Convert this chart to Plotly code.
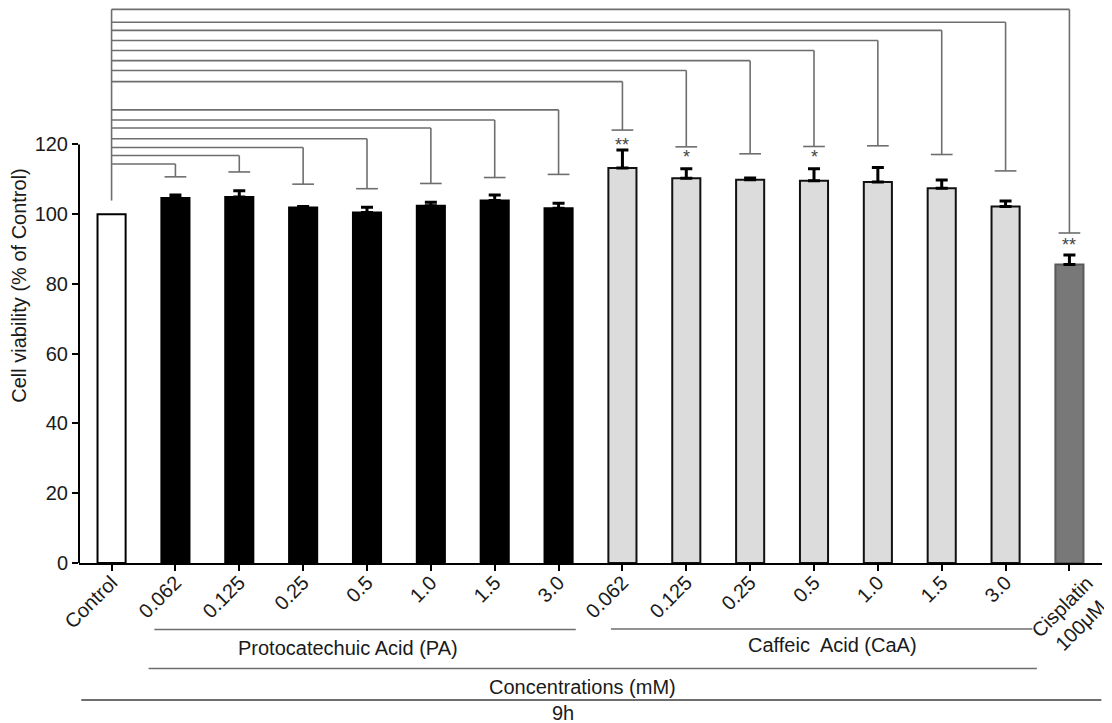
import plotly.graph_objects as go

# ---------------- data ----------------
tick_labels = ["Control",
               "0.062", "0.125", "0.25", "0.5", "1.0", "1.5", "3.0",
               "0.062", "0.125", "0.25", "0.5", "1.0", "1.5", "3.0",
               "Cisplatin<br>100\u03bcM"]
groups = ["Control"] + ["PA"] * 7 + ["CaA"] * 7 + ["Cisplatin"]
viability = [100.0,
             104.6, 104.9, 101.9, 100.5, 102.4, 103.9, 101.7,
             113.2, 110.3, 109.9, 109.6, 109.2, 107.4, 102.2,
             85.6]
sem = [0.0,
       0.9, 1.8, 0.3, 1.5, 1.0, 1.6, 1.4,
       5.2, 2.7, 0.5, 3.4, 4.2, 2.4, 1.6,
       2.7]
significance = ["", "", "", "", "", "", "", "",
                "**", "*", "", "*", "", "", "", "**"]
star_level = [None, None, None, None, None, None, None, None,
              119.9, 116.3, None, 116.3, None, None, None, 91.2]
# comparison brackets vs Control (index 1..15): horizontal level and end-cap level
bracket_level = [114.4, 116.8, 119.1, 121.6, 124.7, 127.0, 129.9,
                 138.0, 141.2, 144.0, 146.9, 149.8, 152.7, 155.0, 158.7]
bracket_cap = [110.7, 112.1, 108.6, 107.3, 108.8, 110.5, 111.4,
               124.1, 119.3, 117.3, 119.4, 119.6, 117.1, 112.4, 94.6]
control_bracket_bottom = 103.9

# ---------------- styles ----------------
fill = {"Control": "#ffffff", "PA": "#000000", "CaA": "#dcdcdc", "Cisplatin": "#787878"}
edge = {"Control": "#000000", "PA": "#000000", "CaA": "#111111", "Cisplatin": "#5a5a5a"}
FONT = "Liberation Sans, Arial, sans-serif"
FS = 20
BR = dict(color="#6e6e6e", width=1.6)

x = list(range(len(viability)))
ctrl = [i for i, g in enumerate(groups) if g == "Control"]
treated = [i for i, g in enumerate(groups) if g != "Control"]

fig = go.Figure()
# control bar: no error bar
fig.add_trace(go.Bar(
    x=[x[i] for i in ctrl], y=[viability[i] for i in ctrl], width=0.44,
    marker=dict(color=[fill[groups[i]] for i in ctrl],
                line=dict(color=[edge[groups[i]] for i in ctrl], width=2)),
    showlegend=False, hoverinfo="skip"))
fig.add_trace(go.Bar(
    x=[x[i] for i in treated], y=[viability[i] for i in treated], width=0.44,
    marker=dict(color=[fill[groups[i]] for i in treated],
                line=dict(color=[edge[groups[i]] for i in treated], width=2)),
    error_y=dict(type="data", symmetric=False, array=[sem[i] for i in treated],
                 arrayminus=[0] * len(treated), thickness=3, width=6, color="#000000"),
    showlegend=False, hoverinfo="skip"))

shapes = []
shapes.append(dict(type="line", xref="x", yref="y", x0=0, x1=0,
                   y0=max(bracket_level), y1=control_bracket_bottom, line=BR))
for k, (lvl, cap) in enumerate(zip(bracket_level, bracket_cap)):
    i = k + 1
    shapes.append(dict(type="line", xref="x", yref="y", x0=0, x1=i, y0=lvl, y1=lvl, line=BR))
    shapes.append(dict(type="line", xref="x", yref="y", x0=i, x1=i, y0=lvl, y1=cap, line=BR))
    shapes.append(dict(type="line", xref="x", yref="y", x0=i - 0.17, x1=i + 0.17,
                       y0=cap, y1=cap, line=BR))

# y axis line only up to 120
shapes.append(dict(type="line", xref="paper", yref="y", x0=0, x1=0, y0=0, y1=120,
                   line=dict(color="#000000", width=2)))

# page has an 8px body margin: reference pixel p -> figure pixel p-8
W, H = 1104, 715
PLOT_BOTTOM_REF = 563
PLOT_H = 555


def py(p):
    return (PLOT_BOTTOM_REF - p) / PLOT_H


GL = dict(color="#6e6e6e", width=1.6)
shapes.append(dict(type="line", xref="x", yref="paper", x0=1 - 0.33, x1=7 + 0.27,
                   y0=py(629.5), y1=py(629.5), line=GL))
shapes.append(dict(type="line", xref="x", yref="paper", x0=8 - 0.18, x1=14 + 0.42,
                   y0=py(629), y1=py(629), line=GL))
shapes.append(dict(type="line", xref="x", yref="paper", x0=0.58, x1=14.49,
                   y0=py(668.5), y1=py(668.5), line=GL))
shapes.append(dict(type="line", xref="x", yref="paper", x0=-0.475, x1=15.5,
                   y0=py(700), y1=py(700), line=dict(color="#6e6e6e", width=2)))

annotations = []
for i, (s, lv) in enumerate(zip(significance, star_level)):
    if s:
        annotations.append(dict(x=i, y=lv, xref="x", yref="y", text=s, showarrow=False,
                                font=dict(family=FONT, size=18, color="#444444"),
                                xanchor="center", yanchor="middle"))

TXT = dict(family=FONT, size=FS, color="#1a1a1a")
MID = dict(xanchor="center", yanchor="middle", showarrow=False, xref="x", yref="paper")
annotations += [
    dict(x=3.70, y=py(647.5), text="Protocatechuic Acid (PA)", font=TXT, **MID),
    dict(x=11.29, y=py(644.5), text="Caffeic  Acid (CaA)", font=TXT, **MID),
    dict(x=7.37, y=py(686.5), text="Concentrations (mM)", font=TXT, **MID),
    dict(x=7.07, y=py(713), text="9h", font=TXT, **MID),
    # cisplatin two-line label, centred lines, rotated like the other tick labels
    dict(x=len(x) - 1 + 0.03, y=py(616), text=tick_labels[-1], textangle=-45,
         align="center", font=TXT, **MID),
]

tick_text_axis = tick_labels[:-1] + [""]

fig.update_layout(
    width=W, height=H,
    margin=dict(l=71, r=10, t=0, b=160, pad=0),
    plot_bgcolor="white", paper_bgcolor="white",
    font=dict(family=FONT, size=FS, color="#1a1a1a"),
    barmode="overlay",
    shapes=shapes, annotations=annotations,
    xaxis=dict(range=[-0.51, 15.51], tickmode="array", tickvals=x, ticktext=tick_text_axis,
               tickangle=-45, showline=True, linecolor="#000000", linewidth=2,
               ticks="outside", ticklen=6, tickwidth=2, tickcolor="#000000",
               ticklabelstandoff=-8,
               showgrid=False, zeroline=False, tickfont=dict(family=FONT, size=FS)),
    yaxis=dict(range=[0, 159.1], tickmode="array", tickvals=[0, 20, 40, 60, 80, 100, 120],
               showline=False, ticks="outside", ticklen=6, tickwidth=2, tickcolor="#000000",
               showgrid=False, zeroline=False, tickfont=dict(family=FONT, size=FS),
               title=dict(text="Cell viability (% of Control)", standoff=8,
                          font=dict(family=FONT, size=FS))),
)

fig.write_html("out.html")
